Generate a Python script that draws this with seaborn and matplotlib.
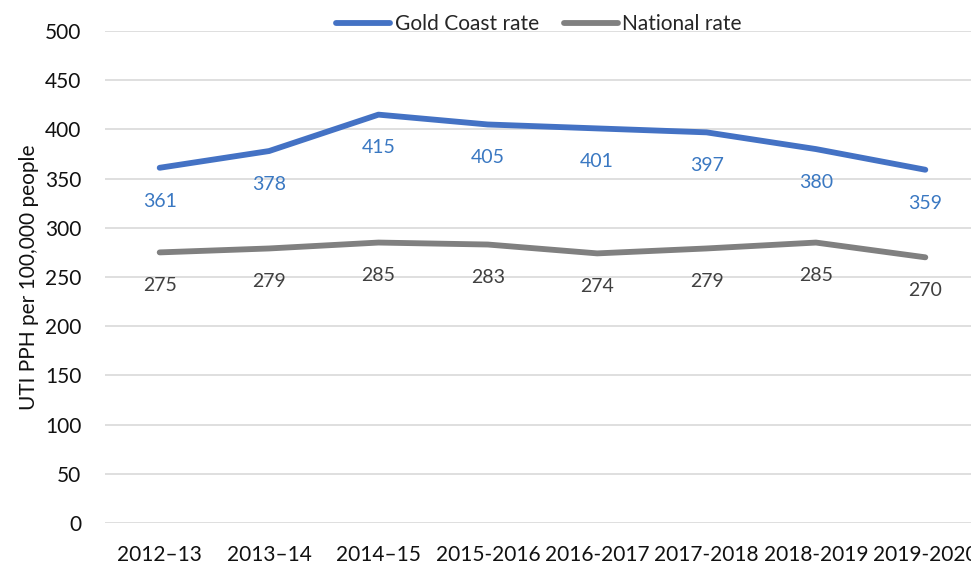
import matplotlib
matplotlib.use("Agg")
import matplotlib.pyplot as plt
import seaborn as sns
import pandas as pd
from matplotlib.lines import Line2D

periods = ["2012\u201313", "2013\u201314", "2014\u201315", "2015-2016", "2016-2017",
           "2017-2018", "2018-2019", "2019-2020"]
gold_coast = [361, 378, 415, 405, 401, 397, 380, 359]
national = [275, 279, 285, 283, 274, 279, 285, 270]
y_ticks = list(range(0, 501, 50))

sns.set_theme(style="white")
plt.rcParams["font.family"] = ["Lato", "DejaVu Sans"]

df = pd.DataFrame({
    "x": list(range(len(periods))) * 2,
    "rate": gold_coast + national,
    "series": ["Gold Coast rate"] * len(periods) + ["National rate"] * len(periods),
})

blue = "#4472C4"
grey = "#808080"

fig = plt.figure(figsize=(9.71, 5.68), dpi=100)
ax = fig.add_axes([105 / 971, 1 - 523 / 568, (971 - 105) / 971, (523 - 31) / 568])

sns.lineplot(data=df, x="x", y="rate", hue="series",
             palette={"Gold Coast rate": blue, "National rate": grey},
             linewidth=4.2, ax=ax, legend=False, solid_capstyle="round")

# value labels sit a fixed distance below each point
for i, v in enumerate(gold_coast):
    ax.annotate(str(v), (i, v), xytext=(0, -24), textcoords="offset points",
                ha="center", va="center", fontsize=14, color="#3A78C2")
for i, v in enumerate(national):
    ax.annotate(str(v), (i, v), xytext=(0, -24), textcoords="offset points",
                ha="center", va="center", fontsize=14, color="#404040")

ax.set_ylim(0, 500)
ax.set_xlim(-0.5, -0.5 + 8 * (971 - 105) / (980 - 105))
ax.set_yticks(y_ticks)
ax.set_yticklabels([str(t) for t in y_ticks], fontsize=15, color="#111111")
ax.set_xticks(range(len(periods)))
ax.set_xticklabels(periods, fontsize=15, color="#111111")
ax.tick_params(axis="both", length=0)
ax.tick_params(axis="x", pad=16)
ax.tick_params(axis="y", pad=17)
ax.yaxis.grid(True, color="#d9d9d9", linewidth=1.2)
ax.set_axisbelow(True)
for s in ax.spines.values():
    s.set_visible(False)
ax.set_xlabel("")
ax.set_ylabel("UTI PPH per 100,000 people", fontsize=15, color="#111111", labelpad=4)

handles = [Line2D([], [], color=blue, linewidth=4.2, solid_capstyle="round"),
           Line2D([], [], color=grey, linewidth=4.2, solid_capstyle="round")]
fig.legend(handles, ["Gold Coast rate", "National rate"], loc="center",
           bbox_to_anchor=(0.555, 1 - 24 / 568), ncol=2, frameon=False,
           fontsize=15, handlelength=2.6, handletextpad=0.2, columnspacing=1.2)

fig.savefig("out.png", dpi=100)
